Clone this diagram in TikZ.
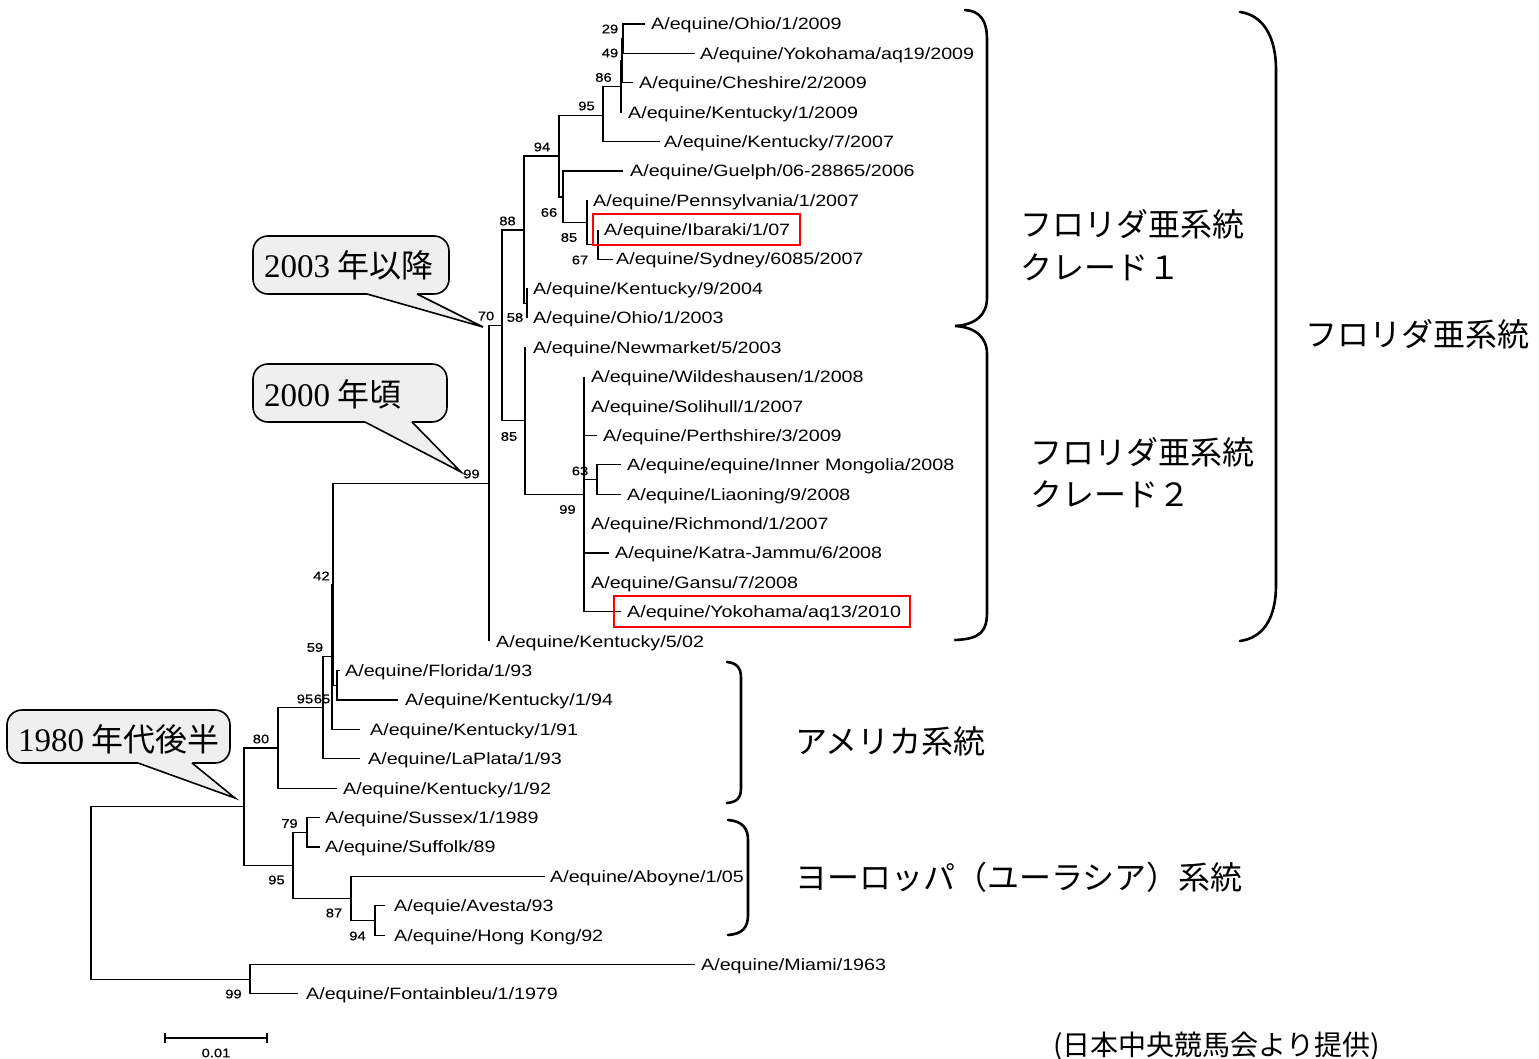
\documentclass[tikz,border=0pt]{standalone}
\usepackage{fontspec}
\setmainfont{Liberation Sans}
\newfontfamily\tipfont[FakeStretch=1.2]{Liberation Sans}
\newfontfamily\bsfont[FakeStretch=1.18,FakeBold=0.6]{Liberation Sans}
\newfontfamily\jpfont{Noto Sans CJK JP}
\newfontfamily\digfont{Liberation Serif}
\definecolor{calloutgray}{HTML}{EFEFEF}
\tikzset{
  br/.style={line width=1.1pt, black},
  tiplab/.style={anchor=base west, inner sep=0pt, yshift=-5.9pt, font=\tipfont\fontsize{16.4}{18}\selectfont},
  bs/.style={inner sep=0pt, font=\bsfont\fontsize{12.5}{14}\selectfont},
  jp/.style={anchor=base west, inner sep=0pt, yshift=-12.2pt, font=\jpfont\fontsize{32}{36}\selectfont},
  credit/.style={anchor=base west, inner sep=0pt, yshift=-10.6pt, font=\jpfont\fontsize{28}{30}\selectfont},
  calltext/.style={anchor=base west, inner sep=0pt, yshift=-11.5pt, font=\jpfont\fontsize{32}{36}\selectfont},
  bracestyle/.style={line width=2.6pt, line cap=round, black},
  callbox/.style={draw=black, line width=1.6pt, fill=calloutgray, rounded corners=15pt},
  redbox/.style={draw=red, line width=1.5pt}
}
\newcommand{\dg}[1]{{\digfont\fontsize{33}{36}\selectfont #1}}
\begin{document}
\begin{tikzpicture}[x=1pt,y=-1pt]
\fill[white] (0,0) rectangle (1539,1059);
\useasboundingbox (0,0) rectangle (1539,1059);

% ---------- internal nodes ----------
\coordinate (n29) at (623,38.7);
\coordinate (n49) at (622,60.8);
\coordinate (n86) at (621,86.5);
\coordinate (n95a) at (603,115.5);
\coordinate (n67) at (598,244.4);
\coordinate (n85a) at (587,222.5);
\coordinate (n66) at (563,197);
\coordinate (n94a) at (559,156);
\coordinate (n58) at (527,303.2);
\coordinate (n88) at (524,230);
\coordinate (n63) at (597,479.6);
\coordinate (n99a) at (584,494.2);
\coordinate (n85b) at (525,420.8);
\coordinate (n70) at (502,325.4);
\coordinate (n99b) at (489,483.3);
\coordinate (n65) at (337,685.3);
\coordinate (n42) at (333,584.3);
\coordinate (n59) at (332,656.9);
\coordinate (n95b) at (323,707.8);
\coordinate (n80) at (278,748);
\coordinate (n79) at (307,832.3);
\coordinate (n94c) at (375,920.5);
\coordinate (n87) at (351,898.4);
\coordinate (n95c) at (293,865.4);
\coordinate (n244) at (244,806.7);
\coordinate (n99c) at (250,979.2);
\coordinate (root) at (91,893);

% ---------- tip ends ----------
\coordinate (t1) at (645,24.0);
\coordinate (t2) at (695,53.4);
\coordinate (t3) at (633,82.8);
\coordinate (t4) at (622,112.2);
\coordinate (t5) at (660,141.6);
\coordinate (t6) at (623,171.0);
\coordinate (t7) at (587,200.3);
\coordinate (t8) at (598,229.7);
\coordinate (t9) at (613,259.1);
\coordinate (t10) at (528,288.5);
\coordinate (t11) at (528,317.9);
\coordinate (t12) at (525,347.3);
\coordinate (t13) at (584,376.7);
\coordinate (t14) at (584,406.1);
\coordinate (t15) at (597,435.5);
\coordinate (t16) at (621,464.9);
\coordinate (t17) at (621,494.2);
\coordinate (t18) at (584,523.6);
\coordinate (t19) at (609,553.0);
\coordinate (t20) at (584,582.4);
\coordinate (t21) at (621,611.8);
\coordinate (t22) at (489,641.2);
\coordinate (t23) at (340,670.6);
\coordinate (t24) at (398,700.0);
\coordinate (t25) at (360,729.4);
\coordinate (t26) at (360,758.8);
\coordinate (t27) at (337,788.2);
\coordinate (t28) at (320,817.6);
\coordinate (t29) at (320,847.0);
\coordinate (t30) at (545,876.4);
\coordinate (t31) at (385,905.8);
\coordinate (t32) at (385,935.1);
\coordinate (t33) at (695,964.5);
\coordinate (t34) at (298,993.9);

% ---------- branches ----------
\draw[br] (n29) |- (t1) (n29) |- (t2)
  (n49) |- (n29) (n49) |- (t3)
  (n86) |- (n49) (n86) |- (t4)
  (n95a) |- (n86) (n95a) |- (t5)
  (n94a) |- (n95a) (n94a) |- (n66)
  (n66) |- (t6) (n66) |- (n85a)
  (n85a) |- (t7) (n85a) |- (n67)
  (n67) |- (t8) (n67) |- (t9)
  (n88) |- (n94a) (n88) |- (n58)
  (n58) |- (t10) (n58) |- (t11)
  (n70) |- (n88) (n70) |- (n85b)
  (n85b) |- (t12) (n85b) |- (n99a)
  (n99a) |- (t13) (n99a) |- (t14) (n99a) |- (t15) (n99a) |- (n63)
  (n99a) |- (t18) (n99a) |- (t19) (n99a) |- (t20) (n99a) |- (t21)
  (n63) |- (t16) (n63) |- (t17)
  (n99b) |- (n70) (n99b) |- (t22)
  (n42) |- (n99b) (n42) |- (n65)
  (n65) |- (t23) (n65) |- (t24)
  (n59) |- (n42) (n59) |- (t25)
  (n95b) |- (n59) (n95b) |- (t26)
  (n80) |- (n95b) (n80) |- (t27)
  (n244) |- (n80) (n244) |- (n95c)
  (n95c) |- (n79) (n95c) |- (n87)
  (n79) |- (t28) (n79) |- (t29)
  (n87) |- (t30) (n87) |- (n94c)
  (n94c) |- (t31) (n94c) |- (t32)
  (n99c) |- (t33) (n99c) |- (t34)
  (root) |- (n244) (root) |- (n99c);

% ---------- tip labels ----------
\node[tiplab] (l1) at (651,24.0) {A/equine/Ohio/1/2009};
\node[tiplab] (l2) at (700,53.4) {A/equine/Yokohama/aq19/2009};
\node[tiplab] (l3) at (639,82.8) {A/equine/Cheshire/2/2009};
\node[tiplab] (l4) at (628,112.2) {A/equine/Kentucky/1/2009};
\node[tiplab] (l5) at (664,141.6) {A/equine/Kentucky/7/2007};
\node[tiplab] (l6) at (630,171.0) {A/equine/Guelph/06-28865/2006};
\node[tiplab] (l7) at (593,200.3) {A/equine/Pennsylvania/1/2007};
\node[tiplab] (l8) at (604,229.7) {A/equine/Ibaraki/1/07};
\node[tiplab] (l9) at (616,259.1) {A/equine/Sydney/6085/2007};
\node[tiplab] (l10) at (533,288.5) {A/equine/Kentucky/9/2004};
\node[tiplab] (l11) at (533,317.9) {A/equine/Ohio/1/2003};
\node[tiplab] (l12) at (533,347.3) {A/equine/Newmarket/5/2003};
\node[tiplab] (l13) at (591,376.7) {A/equine/Wildeshausen/1/2008};
\node[tiplab] (l14) at (591,406.1) {A/equine/Solihull/1/2007};
\node[tiplab] (l15) at (603,435.5) {A/equine/Perthshire/3/2009};
\node[tiplab] (l16) at (627,464.9) {A/equine/equine/Inner Mongolia/2008};
\node[tiplab] (l17) at (627,494.2) {A/equine/Liaoning/9/2008};
\node[tiplab] (l18) at (591,523.6) {A/equine/Richmond/1/2007};
\node[tiplab] (l19) at (615,553.0) {A/equine/Katra-Jammu/6/2008};
\node[tiplab] (l20) at (591,582.4) {A/equine/Gansu/7/2008};
\node[tiplab] (l21) at (627,611.8) {A/equine/Yokohama/aq13/2010};
\node[tiplab] (l22) at (496,641.2) {A/equine/Kentucky/5/02};
\node[tiplab] (l23) at (345,670.6) {A/equine/Florida/1/93};
\node[tiplab] (l24) at (405,700.0) {A/equine/Kentucky/1/94};
\node[tiplab] (l25) at (370,729.4) {A/equine/Kentucky/1/91};
\node[tiplab] (l26) at (368,758.8) {A/equine/LaPlata/1/93};
\node[tiplab] (l27) at (343,788.2) {A/equine/Kentucky/1/92};
\node[tiplab] (l28) at (325,817.6) {A/equine/Sussex/1/1989};
\node[tiplab] (l29) at (325,847.0) {A/equine/Suffolk/89};
\node[tiplab] (l30) at (550,876.4) {A/equine/Aboyne/1/05};
\node[tiplab] (l31) at (394,905.8) {A/equie/Avesta/93};
\node[tiplab] (l32) at (394,935.1) {A/equine/Hong Kong/92};
\node[tiplab] (l33) at (701,964.5) {A/equine/Miami/1963};
\node[tiplab] (l34) at (306,993.9) {A/equine/Fontainbleu/1/1979};

% ---------- red boxes ----------
\draw[redbox] (593,214) rectangle (800,245);
\draw[redbox] (614,596) rectangle (910,627);

% ---------- bootstrap values ----------
\node[bs] (b1) at (610,29) {29};
\node[bs] (b2) at (610,53) {49};
\node[bs] (b3) at (603.5,77.5) {86};
\node[bs] (b4) at (586.5,106) {95};
\node[bs] (b5) at (542,147) {94};
\node[bs] (b6) at (549,212.5) {66};
\node[bs] (b7) at (569,237.5) {85};
\node[bs] (b8) at (580,260) {67};
\node[bs] (b9) at (507.5,221) {88};
\node[bs] (b10) at (515,317.5) {58};
\node[bs] (b11) at (486,316) {70};
\node[bs] (b12) at (509,436.5) {85};
\node[bs] (b13) at (580,471) {63};
\node[bs] (b14) at (567.5,509.5) {99};
\node[bs] (b15) at (471.5,474) {99};
\node[bs] (b16) at (321.5,576) {42};
\node[bs] (b17) at (315,647.5) {59};
\node[bs] (b18) at (305,699) {95};
\node[bs] (b19) at (322,699) {65};
\node[bs] (b20) at (261,739) {80};
\node[bs] (b21) at (289.5,823.5) {79};
\node[bs] (b22) at (276.5,880) {95};
\node[bs] (b23) at (334,913) {87};
\node[bs] (b24) at (357.5,936) {94};
\node[bs] (b25) at (233.5,994) {99};

% ---------- scale bar ----------
\coordinate (sb1) at (165,1038);
\coordinate (sb2) at (267,1038);
\draw[br] (sb1) -- (sb2);
\draw[br] ([yshift=5pt]sb1) -- ([yshift=-5pt]sb1);
\draw[br] ([yshift=5pt]sb2) -- ([yshift=-5pt]sb2);
\node[bs] (sbl) at (216,1053) {0.01};

% ---------- callouts ----------
\draw[callbox] (253,236) rectangle (449,294);
\fill[calloutgray] (367,292) -- (367,294) -- (483,327) -- (417,294) -- (417,292) -- cycle;
\draw[line width=1.6pt, line join=miter] (367,294) -- (483,327) -- (417,294);
\node[calltext] (c1) at (264,266) {\dg{2003} 年以降};

\draw[callbox] (253,364) rectangle (447,422);
\fill[calloutgray] (365,420) -- (365,422) -- (461,472) -- (412,422) -- (412,420) -- cycle;
\draw[line width=1.6pt, line join=miter] (365,422) -- (461,472) -- (412,422);
\node[calltext] (c2) at (264,395) {\dg{2000} 年頃};

\draw[callbox] (7,710) rectangle (230,763);
\fill[calloutgray] (138,761) -- (138,763) -- (235,798) -- (192,763) -- (192,761) -- cycle;
\draw[line width=1.6pt, line join=miter] (138,763) -- (235,798) -- (192,763);
\node[calltext] (c3) at (18,740) {\dg{1980} 年代後半};

% ---------- braces ----------
\draw[bracestyle] (965,10) .. controls (980,11) and (987,20) .. (987,40) -- (987,298)
  .. controls (987,315) and (975,325) .. (955,326)
  .. controls (975,327) and (987,337) .. (987,354) -- (987,612)
  .. controls (987,632) and (980,639) .. (955,640);
\draw[bracestyle] (1240,12) .. controls (1262,15) and (1276,35) .. (1276,70) -- (1276,585)
  .. controls (1276,620) and (1262,638) .. (1240,641);
\draw[bracestyle] (727,662) .. controls (737,663) and (741,668) .. (741,678) -- (741,788)
  .. controls (741,798) and (737,802) .. (727,803);
\draw[bracestyle] (728,820) .. controls (742,821) and (748,828) .. (748,840) -- (748,915)
  .. controls (748,928) and (742,934) .. (728,935);

% ---------- Japanese labels ----------
\node[jp] (j1) at (1020,224) {フロリダ亜系統};
\node[jp] (j2) at (1020,267) {クレード１};
\node[jp] (j3) at (1030,452) {フロリダ亜系統};
\node[jp] (j4) at (1030,494) {クレード２};
\node[jp] (j5) at (1305,334) {フロリダ亜系統};
\node[jp] (j6) at (795,741) {アメリカ系統};
\node[jp] (j7) at (795,877) {ヨーロッパ（ユーラシア）系統};
\node[credit] (cr) at (1053,1045) {(日本中央競馬会より提供)};
\end{tikzpicture}
\end{document}
